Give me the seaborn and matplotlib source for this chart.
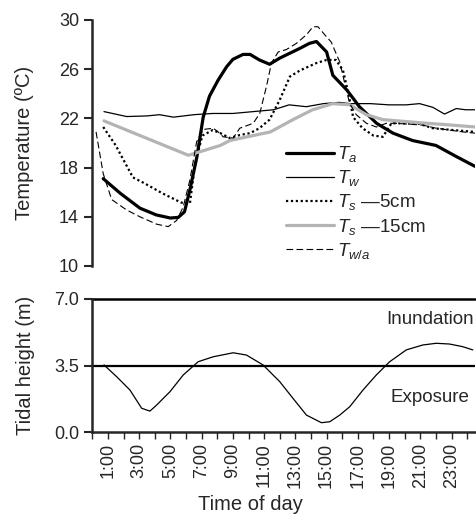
import matplotlib
matplotlib.use("Agg")
import matplotlib.pyplot as plt
import seaborn as sns

# 1. data (hour of day, value)
ta_hours = [0.7, 1.8, 3.05, 4.1, 5.0, 5.5, 5.9, 6.25, 6.7, 7.1, 7.5, 8.05, 8.6, 9.0, 9.65,
            10.1, 10.7, 11.35, 12.0, 12.65, 13.3, 13.9, 14.35, 15.0, 15.4, 16.3, 17.1,
            18.2, 19.25, 20.5, 22.0, 23.3, 24.5]
ta = [17.1, 15.9, 14.7, 14.15, 13.9, 13.95, 14.4, 16.2, 18.9, 22.1, 23.8, 25.1, 26.2, 26.8, 27.2,
      27.2, 26.75, 26.4, 26.9, 27.3, 27.7, 28.1, 28.25, 27.4, 25.5, 24.3, 22.95,
      21.6, 20.8, 20.2, 19.8, 18.9, 18.1]

tw_hours = [0.75, 2.2, 3.5, 4.3, 5.2, 6.5, 7.7, 9.0, 10.3, 11.6, 12.6, 13.7, 14.8, 15.8,
            16.5, 17.8, 19.0, 20.1, 20.95, 21.8, 22.55, 23.3, 23.9, 24.5]
tw = [22.55, 22.15, 22.2, 22.3, 22.1, 22.3, 22.4, 22.4, 22.55, 22.7, 23.1, 22.95, 23.2, 23.3,
      23.2, 23.2, 23.1, 23.1, 23.2, 22.9, 22.35, 22.8, 22.7, 22.7]

ts5_hours = [0.7, 1.5, 2.6, 3.3, 4.5, 5.7, 6.25, 6.6, 7.05, 7.7, 8.2, 8.8, 9.45, 10.1, 10.7,
             11.35, 12.0, 12.65, 13.3, 14.35, 15.0, 15.6, 16.05, 16.4, 16.7, 17.3, 18.0,
             18.6, 19.15, 19.9, 20.95, 21.8, 23.1, 24.5]
ts5 = [21.3, 19.8, 17.2, 16.75, 15.9, 15.15, 15.1, 18.5, 20.6, 21.05, 20.8, 20.4, 20.65, 20.8, 21.2,
       21.9, 23.5, 25.4, 25.9, 26.5, 26.75, 26.75, 25.9, 24.0, 22.1, 21.2, 20.6,
       20.5, 21.6, 21.6, 21.55, 21.2, 21.05, 20.9]

ts15_hours = [0.75, 6.15, 8.2, 8.8, 11.4, 12.85, 14.1, 15.4, 16.5, 17.55, 18.6, 20.95, 23.05, 24.5]
ts15 = [21.8, 19.0, 19.8, 20.2, 20.9, 21.9, 22.7, 23.2, 23.1, 22.3, 21.9, 21.65, 21.45, 21.3]

twa_hours = [0.24, 0.7, 1.24, 2.2, 3.05, 4.12, 4.86, 5.4, 5.82, 6.25, 6.68, 7.1, 7.74, 8.06,
             8.38, 9.02, 9.44, 10.3, 10.72, 11.15, 11.47, 11.9, 12.43, 13.07, 13.71, 14.13,
             14.45, 14.88, 15.3, 15.63, 15.84, 16.16, 16.48, 16.9, 17.55, 18.18, 18.82,
             19.46, 21.16, 22.02, 23.72, 24.5]
twa = [20.9, 17.5, 15.4, 14.55, 14.0, 13.4, 13.2, 13.7, 14.8, 17.0, 20.1, 21.1, 21.2, 20.9,
       20.5, 20.4, 21.2, 21.6, 22.4, 24.6, 26.5, 27.4, 27.6, 28.1, 28.8, 29.45,
       29.45, 28.8, 28.2, 27.2, 26.6, 24.85, 23.2, 22.3, 21.6, 21.3, 21.6,
       21.6, 21.45, 21.2, 20.9, 20.8]

tide_hours = [0.75, 1.56, 2.41, 3.16, 3.69, 4.12, 4.97, 5.82, 6.78, 7.74, 9.02, 9.87, 10.93,
              12.0, 12.85, 13.71, 14.67, 15.2, 15.84, 16.48, 17.33, 18.18, 19.04, 20.1,
              21.16, 22.02, 22.87, 23.72, 24.36]
tide = [3.53, 2.91, 2.21, 1.25, 1.1, 1.42, 2.12, 3.0, 3.7, 3.96, 4.17, 4.05, 3.53,
        2.65, 1.77, 0.89, 0.49, 0.54, 0.89, 1.33, 2.21, 3.0, 3.7, 4.32,
        4.58, 4.67, 4.63, 4.49, 4.32]

hour_ticks = list(range(0, 25))
hour_labels = [f"{h}:00" if h % 2 == 1 else "" for h in hour_ticks]
temp_ticks = [10, 14, 18, 22, 26, 30]
tide_ticks = [0.0, 3.5, 7.0]

# 2. style
sns.set_style("ticks")
plt.rcParams['font.family'] = ['Liberation Sans', 'DejaVu Sans']
plt.rcParams['mathtext.fontset'] = 'custom'
plt.rcParams['mathtext.rm'] = 'Liberation Sans'
plt.rcParams['mathtext.it'] = 'Liberation Sans:italic'

fig = plt.figure(figsize=(4.77, 5.19), dpi=100)
ax1 = fig.add_axes([0.1935, 0.4875, 0.8023, 0.474])
ax2 = fig.add_axes([0.1935, 0.1676, 0.8023, 0.2563])

# 3. temperature panel
sns.lineplot(x=ta_hours, y=ta, ax=ax1, color='black', lw=2.3, label=r'$T_a$')
sns.lineplot(x=tw_hours, y=tw, ax=ax1, color='black', lw=0.9, label=r'$T_w$')
sns.lineplot(x=ts5_hours, y=ts5, ax=ax1, color='black', lw=1.6, linestyle=(0, (1, 1.2)),
             label=r'$T_s$ —5cm')
sns.lineplot(x=ts15_hours, y=ts15, ax=ax1, color='#b4b4b4', lw=2.3, label=r'$T_s$ —15cm')
sns.lineplot(x=twa_hours, y=twa, ax=ax1, color='black', lw=0.8, linestyle=(0, (6, 3)),
             label=r'$T_{w/a}$')

ax1.set_xlim(0, 24.5)
ax1.set_ylim(10, 30)
ax1.set_yticks(temp_ticks)
ax1.set_xticks([])
ax1.set_xlabel('')
ax1.set_ylabel('Temperature (ºC)', fontsize=14.5, labelpad=18)
ax1.tick_params(axis='y', labelsize=13, length=6, width=1.5, direction='out')
for s in ['top', 'right', 'bottom']:
    ax1.spines[s].set_visible(False)
ax1.spines['left'].set_linewidth(1.8)
ax1.legend(loc='upper left', bbox_to_anchor=(0.505, 0.495), frameon=False, fontsize=13.5,
           handlelength=2.6, handletextpad=0.15, labelspacing=0.22, borderpad=0,
           borderaxespad=0)

# 4. tide panel
sns.lineplot(x=tide_hours, y=tide, ax=ax2, color='black', lw=0.9)
ax2.axhline(3.5, color='black', lw=1.6)
ax2.axhline(7.0, color='black', lw=1.8, clip_on=False)
ax2.text(21.6, 5.9, 'Inundation', ha='center', va='center', fontsize=13.5)
ax2.text(21.6, 1.8, 'Exposure', ha='center', va='center', fontsize=13.5)

ax2.set_xlim(0, 24.5)
ax2.set_ylim(0, 7)
ax2.set_yticks(tide_ticks)
ax2.set_yticklabels([f"{v:.1f}" for v in tide_ticks])
ax2.set_xticks(hour_ticks)
ax2.set_xticklabels(hour_labels, rotation=90)
ax2.set_xlabel('Time of day', fontsize=14.5)
ax2.xaxis.set_label_coords(0.412, -0.475)
ax2.set_ylabel('Tidal height (m)', fontsize=14.5, labelpad=14)
ax2.tick_params(axis='y', labelsize=13, length=6, width=1.5, direction='out')
ax2.tick_params(axis='x', labelsize=13, length=5, width=1.0, direction='out', pad=3)
for s in ['top', 'right']:
    ax2.spines[s].set_visible(False)
ax2.spines['left'].set_linewidth(1.8)
ax2.spines['bottom'].set_linewidth(1.8)

plt.savefig('out.png', dpi=100)
